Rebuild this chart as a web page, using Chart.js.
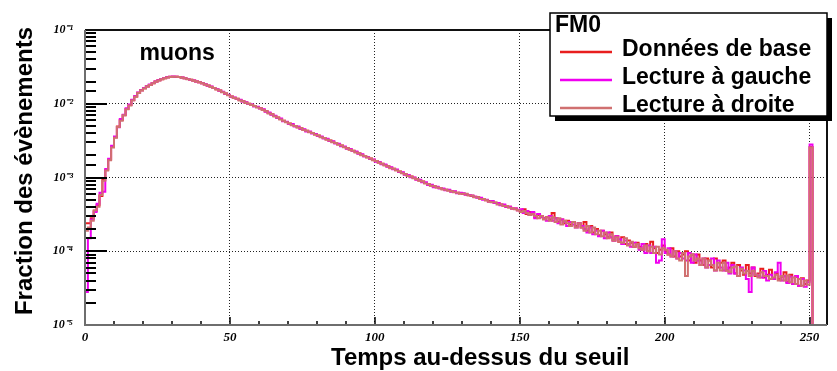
<!DOCTYPE html>
<html lang="fr">
<head>
<meta charset="utf-8">
<title>FM0 - Temps au-dessus du seuil</title>
<script src="https://cdn.jsdelivr.net/npm/chart.js@4.4.1/dist/chart.umd.min.js"></script>
<style>
  html, body { margin: 0; padding: 0; background: #fff; }
  canvas { display: block; }
</style>
</head>
<body>
<canvas id="graphique" width="837" height="371"></canvas>
<script>
// histogrammes : une valeur par canal (largeur 1), canaux 0 a 255
const Y_MIN = 1e-5;
const Y_MAX = 1e-1;
const X_MAX = 256;

const etiquettesX = [0, 50, 100, 150, 200, 250];
const decadesY = [1e-5, 1e-4, 1e-3, 1e-2, 1e-1];
const nomsSeries = ["Données de base", "Lecture à gauche", "Lecture à droite"];
const couleurs = ["#e81e1e", "#f000f0", "#d07070"];

// canaux 0-129
const baseDebut = [
  2.4e-4, 2.4e-4, 2.8e-4, 3.5e-4, 4.2e-4, 5.6e-4, 9.3e-4, 1.27e-3, 1.75e-3, 2.6e-3,
  3.5e-3, 4.9e-3, 6.0e-3, 7.0e-3, 8.5e-3, 9.6e-3, 1.12e-2, 1.25e-2, 1.41e-2, 1.52e-2,
  1.62e-2, 1.72e-2, 1.80e-2, 1.90e-2, 2.00e-2, 2.08e-2, 2.15e-2, 2.22e-2, 2.28e-2, 2.32e-2,
  2.33e-2, 2.33e-2, 2.31e-2, 2.27e-2, 2.22e-2, 2.16e-2, 2.11e-2, 2.06e-2, 2.01e-2, 1.96e-2,
  1.90e-2, 1.83e-2, 1.77e-2, 1.70e-2, 1.64e-2, 1.57e-2, 1.51e-2, 1.44e-2, 1.38e-2, 1.31e-2,
  1.25e-2, 1.21e-2, 1.17e-2, 1.12e-2, 1.08e-2, 1.04e-2, 1.00e-2, 9.7e-3, 9.3e-3, 9.0e-3,
  8.7e-3, 8.3e-3, 7.9e-3, 7.5e-3, 7.2e-3, 6.8e-3, 6.5e-3, 6.2e-3, 5.9e-3, 5.65e-3,
  5.4e-3, 5.2e-3, 5.0e-3, 4.8e-3, 4.65e-3, 4.45e-3, 4.3e-3, 4.15e-3, 4.0e-3, 3.85e-3,
  3.7e-3, 3.55e-3, 3.42e-3, 3.3e-3, 3.17e-3, 3.05e-3, 2.93e-3, 2.82e-3, 2.71e-3, 2.6e-3,
  2.5e-3, 2.4e-3, 2.31e-3, 2.22e-3, 2.13e-3, 2.04e-3, 1.96e-3, 1.88e-3, 1.81e-3, 1.74e-3,
  1.67e-3, 1.6e-3, 1.54e-3, 1.48e-3, 1.42e-3, 1.36e-3, 1.31e-3, 1.26e-3, 1.21e-3, 1.16e-3,
  1.11e-3, 1.07e-3, 1.03e-3, 9.9e-4, 9.5e-4, 9.1e-4, 8.8e-4, 8.4e-4, 8.1e-4, 7.8e-4,
  7.6e-4, 7.4e-4, 7.2e-4, 7.0e-4, 6.8e-4, 6.7e-4, 6.5e-4, 6.4e-4, 6.2e-4, 6.1e-4
];
// canaux 130-255
const baseFin = [
  6.0e-4, 5.9e-4, 5.8e-4, 5.6e-4, 5.5e-4, 5.4e-4, 5.2e-4, 5.1e-4, 4.9e-4, 4.8e-4,
  4.7e-4, 4.5e-4, 4.5e-4, 4.3e-4, 4.2e-4, 4.0e-4, 4.0e-4, 3.8e-4, 3.8e-4, 3.6e-4,
  3.5e-4, 3.7e-4, 3.2e-4, 3.4e-4, 3.3e-4, 2.9e-4, 3.1e-4, 3.0e-4, 2.8e-4, 2.9e-4,
  2.7e-4, 3.3e-4, 2.8e-4, 2.5e-4, 2.7e-4, 2.4e-4, 2.6e-4, 2.3e-4, 2.5e-4, 2.2e-4,
  2.4e-4, 2.1e-4, 2.5e-4, 1.9e-4, 2.2e-4, 1.8e-4, 2.0e-4, 1.65e-4, 1.9e-4, 1.7e-4,
  1.55e-4, 1.8e-4, 1.4e-4, 1.6e-4, 1.35e-4, 1.55e-4, 1.25e-4, 1.4e-4, 1.3e-4, 1.15e-4,
  1.3e-4, 1.15e-4, 1.05e-4, 1.25e-4, 1.0e-4, 1.35e-4, 1.1e-4, 9.5e-5, 1.05e-4, 1.2e-4,
  1.0e-4, 9.0e-5, 1.1e-4, 8.5e-5, 1.0e-4, 8.5e-5, 9.0e-5, 1.0e-4, 7.5e-5, 9.0e-5,
  7.0e-5, 9.0e-5, 7.5e-5, 6.5e-5, 8.0e-5, 7.5e-5, 6.0e-5, 8.0e-5, 6.0e-5, 7.0e-5,
  7.5e-5, 5.5e-5, 6.0e-5, 7.0e-5, 5.0e-5, 6.5e-5, 5.5e-5, 4.8e-5, 6.5e-5, 5.0e-5,
  6.0e-5, 4.6e-5, 5.0e-5, 5.8e-5, 4.4e-5, 4.8e-5, 5.6e-5, 4.2e-5, 5.0e-5, 4.2e-5,
  4.5e-5, 5.2e-5, 3.8e-5, 4.8e-5, 3.6e-5, 4.5e-5, 3.4e-5, 4.3e-5, 3.6e-5, 4.0e-5,
  2.6e-3, 0, 0, 0, 0, 0
];

const gaucheDebut = [
  2.8e-5, 1.5e-4, 2.7e-4, 3.4e-4, 4.4e-4, 6.2e-4, 6.4e-4, 1.3e-3, 1.8e-3, 2.7e-3,
  3.6e-3, 4.8e-3, 6.2e-3, 7.1e-3, 8.7e-3, 9.8e-3, 1.13e-2, 1.27e-2, 1.42e-2, 1.53e-2,
  1.63e-2, 1.73e-2, 1.82e-2, 1.91e-2, 2.01e-2, 2.09e-2, 2.16e-2, 2.23e-2, 2.29e-2, 2.33e-2,
  2.34e-2, 2.33e-2, 2.30e-2, 2.27e-2, 2.21e-2, 2.17e-2, 2.10e-2, 2.06e-2, 2.00e-2, 1.96e-2,
  1.89e-2, 1.84e-2, 1.76e-2, 1.71e-2, 1.63e-2, 1.58e-2, 1.50e-2, 1.45e-2, 1.37e-2, 1.32e-2,
  1.24e-2, 1.22e-2, 1.16e-2, 1.13e-2, 1.07e-2, 1.05e-2, 9.9e-3, 9.8e-3, 9.2e-3, 9.1e-3,
  8.6e-3, 8.4e-3, 7.8e-3, 7.6e-3, 7.1e-3, 6.9e-3, 6.4e-3, 6.3e-3, 5.8e-3, 5.7e-3,
  5.3e-3, 5.3e-3, 4.9e-3, 4.9e-3, 4.55e-3, 4.5e-3, 4.2e-3, 4.2e-3, 3.95e-3, 3.9e-3,
  3.65e-3, 3.6e-3, 3.38e-3, 3.35e-3, 3.12e-3, 3.1e-3, 2.88e-3, 2.86e-3, 2.66e-3, 2.64e-3,
  2.46e-3, 2.44e-3, 2.28e-3, 2.25e-3, 2.1e-3, 2.07e-3, 1.93e-3, 1.9e-3, 1.78e-3, 1.76e-3,
  1.64e-3, 1.62e-3, 1.51e-3, 1.5e-3, 1.4e-3, 1.38e-3, 1.29e-3, 1.28e-3, 1.19e-3, 1.18e-3,
  1.09e-3, 1.08e-3, 1.01e-3, 1.0e-3, 9.3e-4, 9.3e-4, 8.6e-4, 8.6e-4, 7.9e-4, 8.0e-4,
  7.4e-4, 7.5e-4, 7.1e-4, 7.1e-4, 6.7e-4, 6.8e-4, 6.4e-4, 6.5e-4, 6.1e-4, 6.2e-4
];
const gaucheFin = [
  6.1e-4, 5.9e-4, 5.8e-4, 5.7e-4, 5.5e-4, 5.3e-4, 5.3e-4, 5.0e-4, 5.0e-4, 4.7e-4,
  4.8e-4, 4.5e-4, 4.5e-4, 4.2e-4, 4.3e-4, 4.0e-4, 4.0e-4, 3.8e-4, 3.8e-4, 3.6e-4,
  3.7e-4, 3.3e-4, 3.5e-4, 3.1e-4, 3.4e-4, 2.8e-4, 3.2e-4, 2.9e-4, 2.8e-4, 2.6e-4,
  3.0e-4, 2.6e-4, 2.8e-4, 2.4e-4, 2.7e-4, 2.5e-4, 2.2e-4, 2.5e-4, 2.3e-4, 2.1e-4,
  2.4e-4, 2.2e-4, 2.0e-4, 1.8e-4, 2.1e-4, 1.7e-4, 1.9e-4, 1.6e-4, 1.9e-4, 1.5e-4,
  1.8e-4, 1.55e-4, 1.4e-4, 1.6e-4, 1.45e-4, 1.25e-4, 1.4e-4, 1.25e-4, 1.15e-4, 1.3e-4,
  1.25e-4, 1.05e-4, 1.25e-4, 9.5e-5, 1.2e-4, 9.5e-5, 1.15e-4, 7.0e-5, 7.5e-5, 1.45e-4,
  9.5e-5, 1.1e-4, 8.5e-5, 1.0e-4, 8.0e-5, 9.5e-5, 8.0e-5, 7.5e-5, 9.5e-5, 7.0e-5,
  9.0e-5, 7.5e-5, 6.5e-5, 8.0e-5, 6.0e-5, 6.5e-5, 8.0e-5, 5.5e-5, 7.5e-5, 6.0e-5,
  5.5e-5, 7.0e-5, 5.0e-5, 6.5e-5, 5.0e-5, 4.6e-5, 6.0e-5, 5.5e-5, 4.2e-5, 2.8e-5,
  6.0e-5, 4.8e-5, 4.6e-5, 4.4e-5, 5.4e-5, 4.0e-5, 4.8e-5, 4.2e-5, 5.2e-5, 7.0e-5,
  4.0e-5, 4.6e-5, 3.7e-5, 4.5e-5, 3.6e-5, 4.6e-5, 3.4e-5, 4.2e-5, 3.3e-5, 3.8e-5,
  2.8e-3, 0, 0, 0, 0, 0
];

const droiteDebut = [
  1.9e-4, 2.1e-4, 2.6e-4, 3.6e-4, 4.0e-4, 5.8e-4, 9.0e-4, 1.24e-3, 1.72e-3, 2.55e-3,
  3.45e-3, 4.85e-3, 5.9e-3, 7.0e-3, 8.4e-3, 9.5e-3, 1.11e-2, 1.24e-2, 1.40e-2, 1.51e-2,
  1.61e-2, 1.72e-2, 1.79e-2, 1.89e-2, 1.99e-2, 2.07e-2, 2.15e-2, 2.21e-2, 2.27e-2, 2.31e-2,
  2.32e-2, 2.32e-2, 2.30e-2, 2.26e-2, 2.22e-2, 2.15e-2, 2.11e-2, 2.05e-2, 2.01e-2, 1.95e-2,
  1.90e-2, 1.82e-2, 1.77e-2, 1.69e-2, 1.64e-2, 1.56e-2, 1.51e-2, 1.43e-2, 1.38e-2, 1.30e-2,
  1.25e-2, 1.20e-2, 1.17e-2, 1.11e-2, 1.08e-2, 1.03e-2, 1.00e-2, 9.6e-3, 9.3e-3, 8.9e-3,
  8.7e-3, 8.2e-3, 7.9e-3, 7.4e-3, 7.2e-3, 6.7e-3, 6.5e-3, 6.1e-3, 5.9e-3, 5.6e-3,
  5.4e-3, 5.1e-3, 5.0e-3, 4.75e-3, 4.65e-3, 4.4e-3, 4.3e-3, 4.1e-3, 4.0e-3, 3.8e-3,
  3.7e-3, 3.5e-3, 3.42e-3, 3.25e-3, 3.17e-3, 3.0e-3, 2.93e-3, 2.78e-3, 2.71e-3, 2.57e-3,
  2.5e-3, 2.37e-3, 2.31e-3, 2.19e-3, 2.13e-3, 2.01e-3, 1.96e-3, 1.86e-3, 1.81e-3, 1.72e-3,
  1.67e-3, 1.58e-3, 1.54e-3, 1.46e-3, 1.42e-3, 1.34e-3, 1.31e-3, 1.24e-3, 1.21e-3, 1.14e-3,
  1.11e-3, 1.05e-3, 1.03e-3, 9.8e-4, 9.5e-4, 9.0e-4, 8.8e-4, 8.3e-4, 8.1e-4, 7.7e-4,
  7.6e-4, 7.3e-4, 7.2e-4, 6.9e-4, 6.8e-4, 6.6e-4, 6.5e-4, 6.3e-4, 6.2e-4, 6.0e-4
];
const droiteFin = [
  6.0e-4, 6.0e-4, 5.7e-4, 5.7e-4, 5.4e-4, 5.4e-4, 5.1e-4, 5.1e-4, 4.9e-4, 4.7e-4,
  4.6e-4, 4.6e-4, 4.3e-4, 4.3e-4, 4.1e-4, 4.1e-4, 3.9e-4, 3.8e-4, 3.7e-4, 3.6e-4,
  3.4e-4, 3.5e-4, 3.3e-4, 3.1e-4, 3.2e-4, 3.0e-4, 2.8e-4, 3.0e-4, 2.7e-4, 2.9e-4,
  2.6e-4, 2.9e-4, 2.5e-4, 2.8e-4, 2.3e-4, 2.6e-4, 2.4e-4, 2.2e-4, 2.5e-4, 2.1e-4,
  2.4e-4, 2.1e-4, 1.9e-4, 2.2e-4, 1.8e-4, 2.1e-4, 1.7e-4, 1.9e-4, 1.6e-4, 1.8e-4,
  1.5e-4, 1.7e-4, 1.4e-4, 1.55e-4, 1.35e-4, 1.3e-4, 1.5e-4, 1.2e-4, 1.35e-4, 1.15e-4,
  1.25e-4, 1.1e-4, 1.05e-4, 1.2e-4, 1.0e-4, 1.15e-4, 9.5e-5, 1.15e-4, 9.0e-5, 1.1e-4,
  1.05e-4, 9.0e-5, 8.5e-5, 1.0e-4, 8.0e-5, 7.5e-5, 9.5e-5, 4.6e-5, 8.5e-5, 9.0e-5,
  7.5e-5, 8.0e-5, 6.5e-5, 8.0e-5, 6.0e-5, 7.5e-5, 6.5e-5, 5.5e-5, 7.0e-5, 5.5e-5,
  7.0e-5, 5.5e-5, 5.2e-5, 6.0e-5, 6.2e-5, 4.6e-5, 5.8e-5, 5.0e-5, 5.4e-5, 4.6e-5,
  5.4e-5, 4.8e-5, 4.4e-5, 5.2e-5, 4.6e-5, 4.6e-5, 4.2e-5, 4.4e-5, 4.8e-5, 4.0e-5,
  4.6e-5, 4.0e-5, 4.7e-5, 3.8e-5, 4.4e-5, 3.6e-5, 4.2e-5, 3.4e-5, 4.0e-5, 3.5e-5,
  2.55e-3, 0, 0, 0, 0, 0
];

const series = [
  baseDebut.concat(baseFin),
  gaucheDebut.concat(gaucheFin),
  droiteDebut.concat(droiteFin)
];

// un point par bord gauche de canal, plus le bord droit final ; les canaux vides restent au plancher
function versPoints(valeurs) {
  const pts = valeurs.map((v, i) => ({ x: i, y: v > 0 ? v : Y_MIN }));
  pts.push({ x: valeurs.length, y: pts[pts.length - 1].y });
  return pts;
}

function estDecade(v) {
  const l = Math.log10(v);
  return Math.abs(l - Math.round(l)) < 1e-6;
}

const exposants = { "-": "\u207B", "1": "\u00B9", "2": "\u00B2", "3": "\u00B3", "4": "\u2074", "5": "\u2075" };
function puissanceDix(v) {
  const n = String(Math.round(Math.log10(v)));
  return "10" + n.split("").map((c) => exposants[c]).join("");
}

const transparent = "rgba(0,0,0,0)";

const decoRoot = {
  id: "decoRoot",
  afterDatasetsDraw(chart) {
    const { ctx, chartArea: a } = chart;
    const x = chart.scales.x;
    const y = chart.scales.y;
    ctx.save();

    // graduations tournees vers l'interieur
    ctx.strokeStyle = "#000";
    ctx.lineWidth = 2;
    y.ticks.forEach((t) => {
      const py = Math.round(y.getPixelForValue(t.value));
      const long = estDecade(t.value) ? 22 : 11;
      ctx.beginPath();
      ctx.moveTo(a.left, py);
      ctx.lineTo(a.left + long, py);
      ctx.stroke();
    });
    ctx.lineWidth = 1.5;
    x.ticks.forEach((t) => {
      const px = Math.round(x.getPixelForValue(t.value));
      const long = etiquettesX.includes(t.value) ? 8 : 4;
      ctx.beginPath();
      ctx.moveTo(px, a.bottom);
      ctx.lineTo(px, a.bottom - long);
      ctx.stroke();
    });

    // cadre
    ctx.lineWidth = 2;
    ctx.strokeStyle = "#111";
    ctx.beginPath();
    ctx.moveTo(a.left, a.top);
    ctx.lineTo(a.right, a.top);
    ctx.lineTo(a.right, a.bottom);
    ctx.stroke();
    ctx.strokeStyle = "#6e6e6e";
    ctx.beginPath();
    ctx.moveTo(a.left, a.top);
    ctx.lineTo(a.left, a.bottom);
    ctx.lineTo(a.right, a.bottom);
    ctx.stroke();
    ctx.restore();
  },
  afterDraw(chart) {
    const { ctx } = chart;
    const x = chart.scales.x;
    const y = chart.scales.y;
    ctx.save();
    ctx.fillStyle = "#000";
    ctx.textBaseline = "alphabetic";

    // titres des axes
    ctx.font = "bold 24px 'Liberation Sans', Arial, sans-serif";
    ctx.textAlign = "left";
    ctx.fillText("Temps au-dessus du seuil", 331, 365);
    ctx.save();
    ctx.translate(32, 171);
    ctx.rotate(-Math.PI / 2);
    ctx.textAlign = "center";
    ctx.fillText("Fraction des évènements", 0, 0);
    ctx.restore();

    // annotation
    ctx.font = "bold 23px 'Liberation Sans', Arial, sans-serif";
    ctx.textAlign = "left";
    ctx.fillText("muons", x.getPixelForValue(18.8), y.getPixelForValue(3.9e-2));

    // legende
    const bx = 550, by = 13, bw = 277, bh = 103;
    ctx.fillStyle = "#000";
    ctx.fillRect(bx + 5, by + 5, bw, bh);
    ctx.fillStyle = "#fff";
    ctx.fillRect(bx, by, bw, bh);
    ctx.strokeStyle = "#000";
    ctx.lineWidth = 1.5;
    ctx.strokeRect(bx, by, bw, bh);

    ctx.fillStyle = "#000";
    ctx.font = "bold 23px 'Liberation Sans', Arial, sans-serif";
    ctx.fillText("FM0", 555, 32);
    chart.data.datasets.forEach((ds, i) => {
      const ly = 52 + i * 28;
      ctx.strokeStyle = ds.borderColor;
      ctx.lineWidth = 2.5;
      ctx.beginPath();
      ctx.moveTo(560, ly);
      ctx.lineTo(612, ly);
      ctx.stroke();
      ctx.fillStyle = "#000";
      ctx.fillText(ds.label, 622, ly + 4);
    });
    ctx.restore();
  }
};

new Chart(document.getElementById("graphique"), {
  type: "line",
  data: {
    datasets: series.map((valeurs, i) => ({
      label: nomsSeries[i],
      data: versPoints(valeurs),
      borderColor: couleurs[i],
      borderWidth: 2,
      stepped: true,
      pointRadius: 0,
      fill: false,
      order: 2 - i
    }))
  },
  options: {
    responsive: false,
    animation: false,
    events: [],
    layout: { padding: { top: 30, right: 10, left: 0, bottom: 0 } },
    plugins: {
      legend: { display: false },
      tooltip: { enabled: false }
    },
    scales: {
      x: {
        type: "linear",
        min: 0,
        max: X_MAX,
        afterFit: (s) => { s.height = 46; },
        border: { display: false, dash: [1, 2] },
        grid: {
          drawTicks: false,
          lineWidth: 1,
          color: (c) => (c.tick && c.tick.value > 0 && etiquettesX.includes(c.tick.value)) ? "#222" : transparent
        },
        ticks: {
          stepSize: 10,
          includeBounds: false,
          autoSkip: false,
          maxRotation: 0,
          padding: 5,
          color: "#000",
          font: { family: "'Liberation Serif', 'Times New Roman', serif", size: 13, style: "italic", weight: "bold" },
          callback: (v) => etiquettesX.includes(v) ? String(v) : ""
        }
      },
      y: {
        type: "logarithmic",
        min: Y_MIN,
        max: Y_MAX,
        afterFit: (s) => { s.width = 85; },
        border: { display: false, dash: [1, 2] },
        grid: {
          drawTicks: false,
          lineWidth: 1,
          color: (c) => (c.tick && estDecade(c.tick.value) && c.tick.value > Y_MIN * 1.5 && c.tick.value < Y_MAX / 1.5) ? "#222" : transparent
        },
        ticks: {
          autoSkip: false,
          padding: 12,
          color: "#000",
          font: { family: "'Liberation Serif', 'Times New Roman', serif", size: 12, style: "italic", weight: "bold" },
          callback: (v) => (estDecade(v) && decadesY.some((d) => Math.abs(d - v) / d < 1e-6)) ? puissanceDix(v) : ""
        }
      }
    }
  },
  plugins: [decoRoot]
});
</script>
</body>
</html>
